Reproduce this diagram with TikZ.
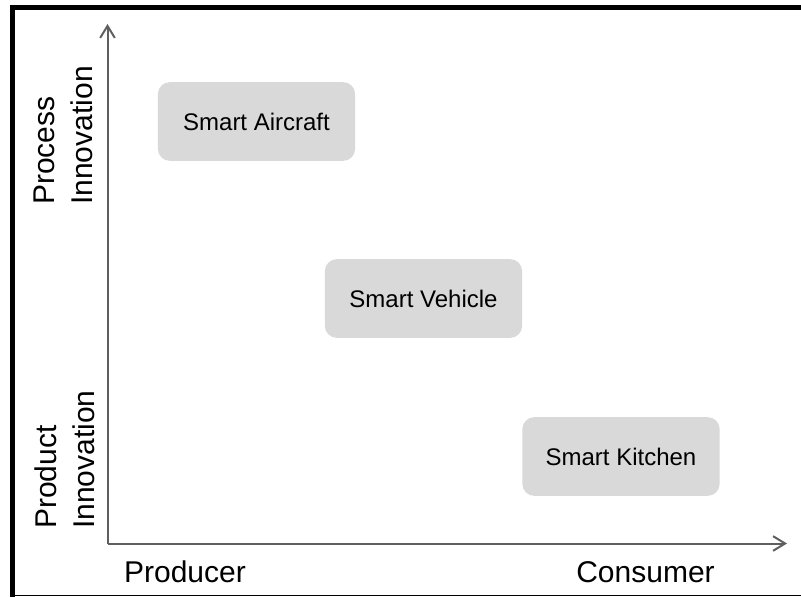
\documentclass[tikz,border=0pt]{standalone}
\usepackage{fontspec}
\setmainfont{Liberation Sans}
\usetikzlibrary{arrows.meta}
\definecolor{boxgray}{HTML}{D9D9D9}
\definecolor{axisgray}{HTML}{5F5F5F}

\begin{document}
\begin{tikzpicture}[x=0.75pt,y=-0.75pt]
	\tikzstyle{unit}=[fill=boxgray,rounded corners=9pt,minimum width=148pt,minimum height=59pt,inner sep=0pt,font=\fontsize{18}{21}\selectfont]
	\tikzstyle{axis}=[draw=axisgray,line width=1.5pt,-{Straight Barb[length=9pt,width=11pt,line width=1.5pt]}]
	\tikzstyle{label}=[inner sep=0pt,font=\fontsize{22.5}{28.5}\selectfont]
	\useasboundingbox (0,0) rectangle (801,597);

	% frame
	\draw[line width=3.75pt] (12,597) -- (12,7) -- (801,7);
	\draw[line width=1pt] (12,595.5) -- (801,595.5);

	% axes
	\coordinate (o) at (107.5,543.5);
	\coordinate (ytop) at (107.5,24);
	\coordinate (xend) at (787,543.5);
	\draw[axis] (o) -- (ytop);
	\draw[axis] (o) -- (xend);

	\node[label,rotate=90,anchor=north west,align=left](process) at (34,205){Process\\Innovation};
	\node[label,rotate=90,anchor=north west,align=left](product) at (34,529){Product\\Innovation};
	\node[label,anchor=base](producer) at (185,582){Producer};
	\node[label,anchor=base](consumer) at (645.5,582){Consumer};

	\node[unit](aircraft) at (256.5,121.5){Smart Aircraft};
	\node[unit](vehicle) at (423.5,298.5){Smart Vehicle};
	\node[unit](kitchen) at (621,456.5){Smart Kitchen};
\end{tikzpicture}
\end{document}
